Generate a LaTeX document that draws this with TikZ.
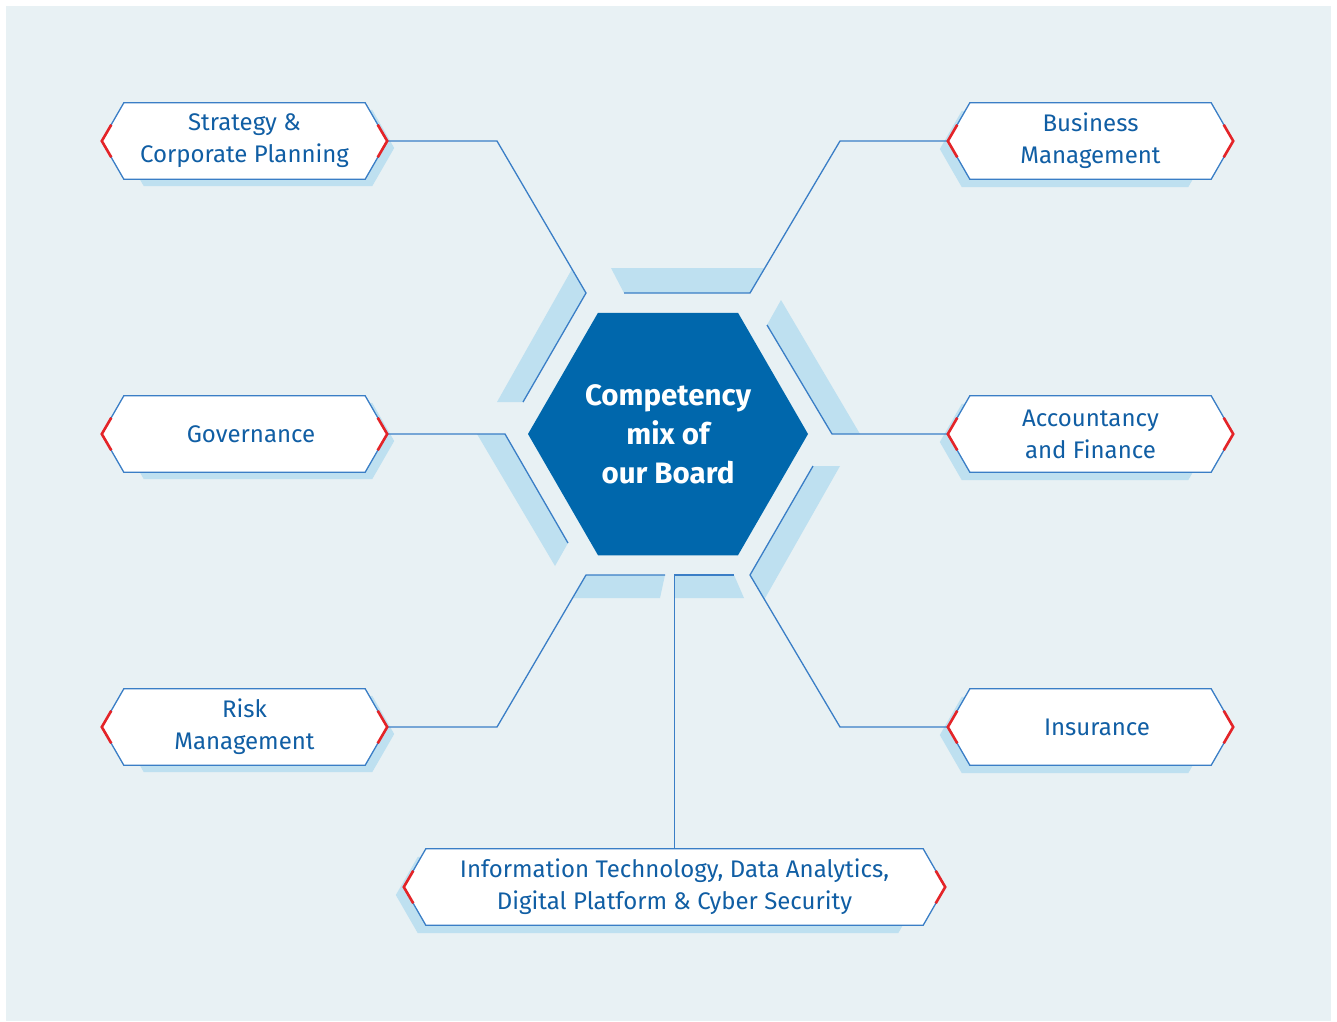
\documentclass[tikz,border=0pt]{standalone}
\usepackage{fontspec}
\setmainfont{Fira Sans}
\usetikzlibrary{calc,shapes.geometric}
\pgfdeclarelayer{background}
\pgfsetlayers{background,main}
\definecolor{bgblue}{RGB}{232,241,244}
\definecolor{bandblue}{RGB}{190,224,240}
\definecolor{lineblue}{RGB}{58,126,198}
\definecolor{hubblue}{RGB}{0,103,172}
\definecolor{txtblue}{RGB}{16,94,164}
\definecolor{tipred}{RGB}{228,36,40}
\begin{document}
\begin{tikzpicture}[x=1pt, y=-1pt,
    skill/.style={rectangle, minimum width=285pt, minimum height=76pt, inner sep=0pt,
        text=txtblue, align=center, font=\fontsize{24}{32}\selectfont},
    hub/.style={regular polygon, regular polygon sides=6, minimum size=280pt, inner sep=0pt,
        fill=hubblue, text=white, align=center, font=\fontsize{29.5}{39}\selectfont\bfseries},
    band/.style={fill=bandblue},
    shade/.style={fill=bandblue},
    link/.style={draw=lineblue, line width=1.3pt},
    boxline/.style={fill=white, draw=lineblue, line width=1.3pt},
    tipmark/.style={draw=tipred, line width=2.6pt}]
    \useasboundingbox (0,0) rectangle (1337,1021);

    % --- Central hexagon ---
    \node[hub] (board) at (668,434) {Competency\\mix of\\our Board};

    % --- Competency boxes ---
    \node[skill] (strat) at (244.5,141) {Strategy \&\\Corporate Planning};
    \node[skill] (gov)   at (244.5,434) {\hspace*{13pt}Governance};
    \node[skill] (risk)  at (244.5,727) {Risk\\Management};
    \node[skill] (busi)  at (1090.5,141) {Business\\Management};
    \node[skill] (acc)   at (1090.5,434) {Accountancy\\and Finance};
    \node[skill] (ins)   at (1090.5,727) {\hspace*{13pt}Insurance};
    \node[skill, minimum width=541pt] (it) at (674.5,887)
        {Information Technology, Data Analytics,\\Digital Platform \& Cyber Security};

    % --- Ring corners and bends ---
    \coordinate (tl) at (586,293);
    \coordinate (tr) at (750,293);
    \coordinate (r)  at (832,434);
    \coordinate (br) at (750,575);
    \coordinate (bl) at (586,575);
    \coordinate (l)  at (505,434);
    \coordinate (tlend) at (523,402);
    \coordinate (trend) at (624,293);
    \coordinate (rend)  at (767,325);
    \coordinate (brend) at (813,466);
    \coordinate (blend) at (665,575);
    \coordinate (lend)  at (568,543);
    \coordinate (bmid)  at (674.5,575);
    \coordinate (bend)  at (734,575);
    \coordinate (k1) at (497,141);
    \coordinate (k2) at (840,141);
    \coordinate (k3) at (497,727);
    \coordinate (k4) at (840,727);

    \begin{pgfonlayer}{background}
        % Background panel
        \fill[bgblue] (6,6) rectangle (1331,1021);

        % Ring pieces
        \fill[band] (624,293) -- (750,293) -- (764,268) -- (611,268) -- cycle;
        \fill[band] (767,325) -- (832,434) -- (860,434) -- (781,300) -- cycle;
        \fill[band] (813,466) -- (750,575) -- (764,600) -- (840,466) -- cycle;
        \fill[band] (674,575) -- (734,575) -- (744,598) -- (674,598) -- cycle;
        \fill[band] (586,575) -- (665,575) -- (660,598) -- (573,598) -- cycle;
        \fill[band] (568,543) -- (505,434) -- (477,434) -- (555,566) -- cycle;
        \fill[band] (523,402) -- (586,293) -- (572,269) -- (497,402) -- cycle;

        % Box shadows
        \foreach \n/\a/\b/\d in {strat/20/7/7, gov/20/7/7, risk/20/7/7,
                busi/-8/-23/8, acc/-8/-23/8, ins/-8/-23/8, it/-8/-25/8}
            \fill[shade] ($(\n.west)+(\a,\d)$) -- ($(\n.north west)+(22+\a,\d)$)
                -- ($(\n.north east)+(-22+\b,\d)$) -- ($(\n.east)+(\b,\d)$)
                -- ($(\n.south east)+(-22+\b,\d)$) -- ($(\n.south west)+(22+\a,\d)$) -- cycle;

        % Connectors
        \draw[link] (strat.east) -- (k1) -- (tl) -- (tlend);
        \draw[link] (busi.west) -- (k2) -- (tr) -- (trend);
        \draw[link] (acc.west) -- (r) -- (rend);
        \draw[link] (gov.east) -- (l) -- (lend);
        \draw[link] (risk.east) -- (k3) -- (bl) -- (blend);
        \draw[link] (ins.west) -- (k4) -- (br) -- (brend);
        \draw[link] (it.north) -- (bmid) -- (bend);

        % Box outlines and red tips
        \foreach \n in {strat,gov,risk,busi,acc,ins,it} {
            \filldraw[boxline] (\n.west) -- ($(\n.north west)+(22,0)$) -- ($(\n.north east)+(-22,0)$)
                -- (\n.east) -- ($(\n.south east)+(-22,0)$) -- ($(\n.south west)+(22,0)$) -- cycle;
            \draw[tipmark] ($(\n.west)+(9.5,-16.3)$) -- (\n.west) -- ($(\n.west)+(9.5,16.3)$);
            \draw[tipmark] ($(\n.east)+(-9.5,-16.3)$) -- (\n.east) -- ($(\n.east)+(-9.5,16.3)$);
        }
    \end{pgfonlayer}
\end{tikzpicture}
\end{document}
